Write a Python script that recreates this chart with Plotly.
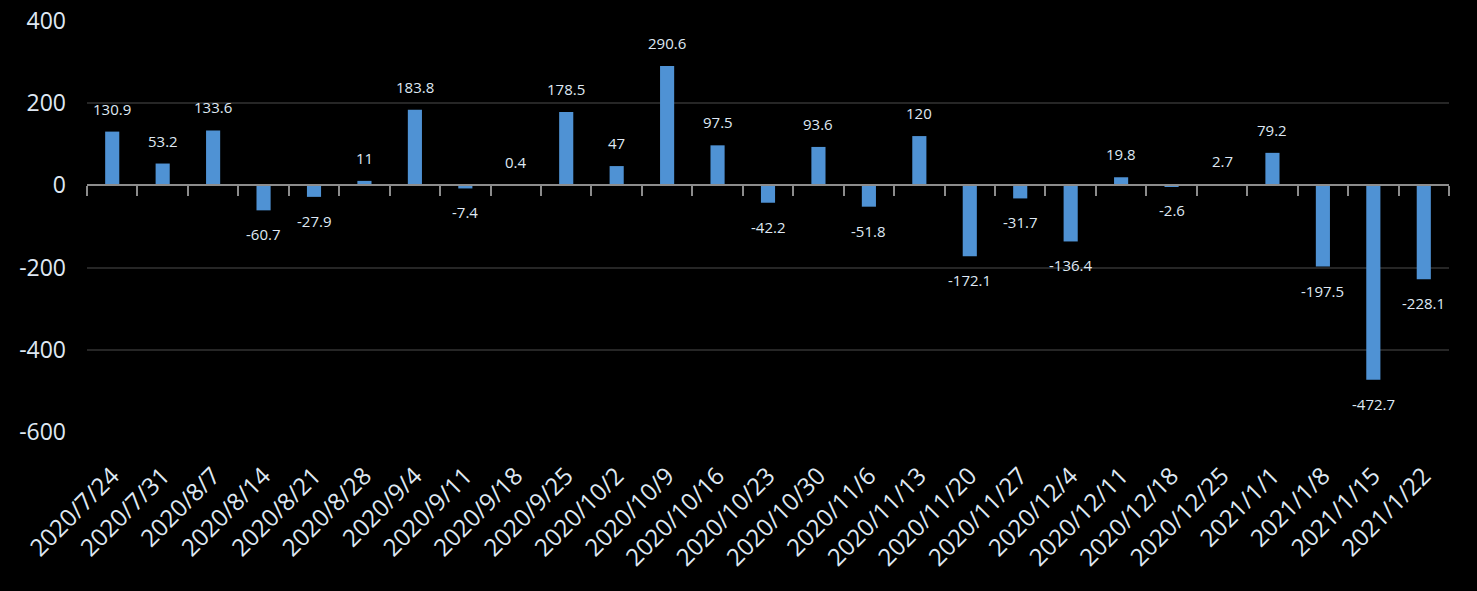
import plotly.graph_objects as go

dates = ["2020/7/24", "2020/7/31", "2020/8/7", "2020/8/14", "2020/8/21", "2020/8/28",
         "2020/9/4", "2020/9/11", "2020/9/18", "2020/9/25", "2020/10/2", "2020/10/9",
         "2020/10/16", "2020/10/23", "2020/10/30", "2020/11/6", "2020/11/13", "2020/11/20",
         "2020/11/27", "2020/12/4", "2020/12/11", "2020/12/18", "2020/12/25", "2021/1/1",
         "2021/1/8", "2021/1/15", "2021/1/22"]
values = [130.9, 53.2, 133.6, -60.7, -27.9, 11, 183.8, -7.4, 0.4, 178.5, 47, 290.6,
          97.5, -42.2, 93.6, -51.8, 120, -172.1, -31.7, -136.4, 19.8, -2.6, 2.7, 79.2,
          -197.5, -472.7, -228.1]
y_ticks = [400, 200, 0, -200, -400, -600]
y_tick_labels = ["400", "200", "0", "-200", "-400", "-600"]

FONT = "Open Sans"
TXT = "#dfe8f3"
n = len(dates)

fig = go.Figure()
fig.add_trace(go.Bar(x=dates, y=values, width=0.28,
                     marker=dict(color="#4f92d4", line=dict(width=0)),
                     hoverinfo="x+y"))

# zero-line axis with boundary ticks
fig.add_trace(go.Scatter(x=dates, y=[0] * n, xaxis="x2", mode="markers",
                         marker=dict(opacity=0), hoverinfo="skip", showlegend=False))

for d, v in zip(dates, values):
    fig.add_annotation(x=d, y=v, text=str(v), showarrow=False,
                       yanchor="middle", yshift=23 if v >= 0 else -24,
                       font=dict(family=FONT, size=15, color=TXT))

fig.update_layout(
    width=1477, height=591,
    paper_bgcolor="black", plot_bgcolor="black",
    margin=dict(l=87, r=28, t=21, b=159, autoexpand=False),
    showlegend=False,
    xaxis=dict(type="category", range=[-0.5, n - 0.5], showline=False, ticks="",
               showgrid=False, zeroline=False, automargin=False, tickangle=-45,
               ticklabelstandoff=24,
               tickfont=dict(family=FONT, size=24, color=TXT)),
    xaxis2=dict(type="category", overlaying="x", matches="x", anchor="free", position=0.6,
                side="bottom", showline=True, linecolor="#8c8c8c", linewidth=2,
                ticks="outside", tickson="boundaries", ticklen=10, tickwidth=2,
                tickcolor="#8c8c8c", showticklabels=False, showgrid=False, zeroline=False,
                automargin=False),
    yaxis=dict(range=[-600, 400], tickvals=y_ticks, ticktext=y_tick_labels,
               showgrid=True, gridcolor="#262626",
               gridwidth=2, zeroline=False, showline=False, ticks="",
               ticklabelstandoff=20, automargin=False,
               tickfont=dict(family=FONT, size=23, color=TXT)),
)

fig.write_html("out.html", config={"displayModeBar": False},
               post_script="document.body.style.margin='0';document.body.style.background='black';")
